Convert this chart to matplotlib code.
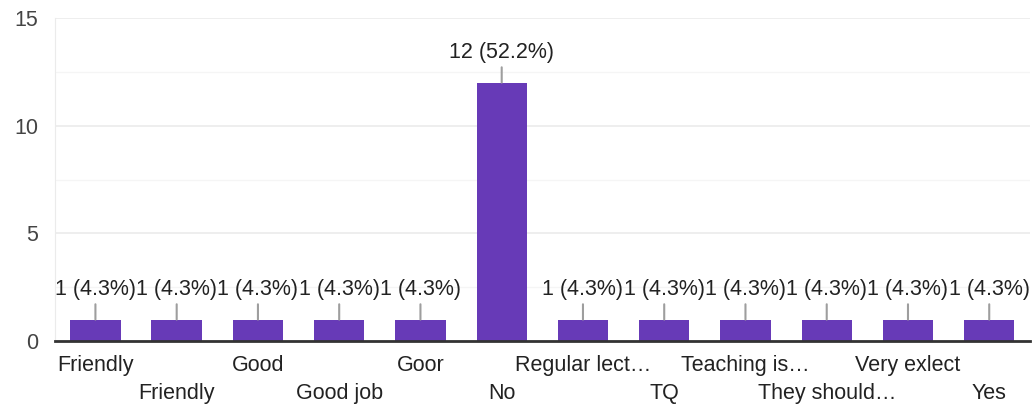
import matplotlib.pyplot as plt
from matplotlib.ticker import MultipleLocator
from matplotlib.transforms import blended_transform_factory

categories = ['Friendly', 'Friendly', 'Good', 'Good job', 'Goor', 'No',
              'Regular lect…', 'TQ', 'Teaching is…', 'They should…',
              'Very exlect', 'Yes']
counts = [1, 1, 1, 1, 1, 12, 1, 1, 1, 1, 1, 1]
percents = [4.3, 4.3, 4.3, 4.3, 4.3, 52.2, 4.3, 4.3, 4.3, 4.3, 4.3, 4.3]

plt.rcParams['font.family'] = ['Liberation Sans', 'DejaVu Sans']

fig = plt.figure(figsize=(10.34, 4.08), dpi=100)
ax = fig.add_axes([0.053, 0.164, 0.943, 0.792])

x = list(range(len(categories)))
ax.bar(x, counts, width=0.62, color='#673ab7', zorder=3)

ax.set_xlim(-0.5, len(categories) - 0.5)
ax.set_ylim(0, 15)
ax.yaxis.set_major_locator(MultipleLocator(5))
ax.yaxis.set_minor_locator(MultipleLocator(2.5))
ax.grid(axis='y', which='major', color='#ebebeb', linewidth=1.2, zorder=0)
ax.grid(axis='y', which='minor', color='#f5f5f5', linewidth=1.0, zorder=0)

for s in ['top', 'right']:
    ax.spines[s].set_visible(False)
ax.spines['left'].set_color('#ebebeb')
ax.spines['bottom'].set_color('#333333')
ax.spines['bottom'].set_linewidth(2)
ax.spines['bottom'].set_zorder(4)

ax.tick_params(axis='y', which='both', length=0, pad=12, labelsize=15.5, labelcolor='#444444')
ax.set_xticks(x)
ax.set_xticklabels([])
ax.tick_params(axis='x', length=0)

# alternating two-row category labels
trans = blended_transform_factory(ax.transData, ax.transAxes)
for i, name in enumerate(categories):
    yoff = -0.075 if i % 2 == 0 else -0.162
    ax.text(i, yoff, name, transform=trans, ha='center', va='center',
            fontsize=15.5, color='#222222')

# value labels with stems
for i, (c, p) in enumerate(zip(counts, percents)):
    ax.annotate(f'{c} ({p}%)', xy=(i, c), xytext=(0, 14), textcoords='offset points',
                ha='center', va='bottom', fontsize=15.5, color='#222222',
                arrowprops=dict(arrowstyle='-', color='#9e9e9e', lw=1.5,
                                relpos=(0.5, 0), shrinkA=1, shrinkB=0),
                zorder=5)

fig.savefig('out.png', dpi=100)
